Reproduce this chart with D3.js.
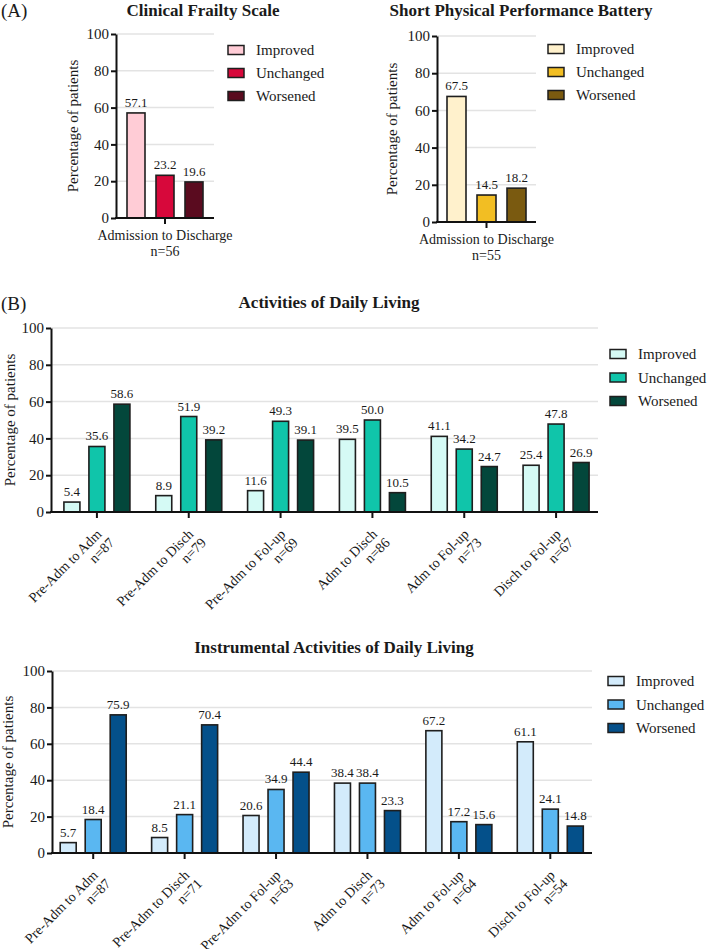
<!DOCTYPE html>
<html>
<head>
<meta charset="utf-8">
<script src="https://cdn.jsdelivr.net/npm/d3@7"></script>
<style>
  svg text { font-family: Liberation Serif; }
</style>
</head>
<body style="margin:0">
<script>
var outcomes = ["Improved", "Unchanged", "Worsened"];
var yTicks = [0, 20, 40, 60, 80, 100];

// (A) single period
var cfsPeriod = ["Admission to Discharge"], cfsN = [56];
var cfsValues = [57.1, 23.2, 19.6];
var sppbPeriod = ["Admission to Discharge"], sppbN = [55];
var sppbValues = [67.5, 14.5, 18.2];

// (B) six periods
var periods = ["Pre-Adm to Adm", "Pre-Adm to Disch", "Pre-Adm to Fol-up",
               "Adm to Disch", "Adm to Fol-up", "Disch to Fol-up"];
var adlN = [87, 79, 69, 86, 73, 67];
var adlImproved  = [5.4, 8.9, 11.6, 39.5, 41.1, 25.4];
var adlUnchanged = [35.6, 51.9, 49.3, 50.0, 34.2, 47.8];
var adlWorsened  = [58.6, 39.2, 39.1, 10.5, 24.7, 26.9];
var iadlN = [87, 71, 63, 73, 64, 54];
var iadlImproved  = [5.7, 8.5, 20.6, 38.4, 67.2, 61.1];
var iadlUnchanged = [18.4, 21.1, 34.9, 38.4, 17.2, 24.1];
var iadlWorsened  = [75.9, 70.4, 44.4, 23.3, 15.6, 14.8];

var width = 709, height = 949;

var svg = d3.select("body").append("svg")
    .attr("width", width)
    .attr("height", height);

// serif text with given size
function addText(parent, size, txt) {
  return parent.append("text")
    .attr("font-size", size)
    .style("font-family", "Liberation Serif")
    .attr("fill", "#1a1a1a")
    .text(txt);
}

function drawPanel(p) {
  var g = svg.append("g");
  var y = d3.scaleLinear().domain([0, 100]).range([p.bottom, p.top]);
  var x = d3.scaleBand().domain(p.cats).range([p.bandLeft, p.bandRight]);
  var inner = d3.scalePoint().domain(outcomes).range([-p.step, p.step]);

  // gridlines
  g.selectAll(".grid").data(yTicks.filter(function(t){ return t > 0; }))
    .join("line")
      .attr("x1", p.left).attr("x2", p.right)
      .attr("y1", y).attr("y2", y)
      .attr("stroke", "#e3e3e3").attr("stroke-width", 1.5);

  // bars + values
  outcomes.forEach(function(o, k) {
    var cx = function(d, i) { return x(p.cats[i]) + x.bandwidth() / 2 + inner(o); };
    g.selectAll(null).data(p.series[k]).join("rect")
      .attr("x", function(d, i){ return cx(d, i) - p.barW / 2; })
      .attr("y", y)
      .attr("width", p.barW)
      .attr("height", function(d){ return y(0) - y(d); })
      .attr("fill", p.colors[k])
      .attr("stroke", "#1e1e1e").attr("stroke-width", 1.6);
    p.series[k].forEach(function(d, i) {
      addText(g, 13, d.toFixed(1))
        .attr("x", cx(d, i)).attr("y", y(d) - 6)
        .attr("text-anchor", "middle");
    });
  });

  // y axis: ticks from d3, labels as serif text
  var ya = g.append("g")
      .attr("transform", "translate(" + p.left + ",0)")
      .call(d3.axisLeft(y).tickValues(yTicks).tickSize(5).tickSizeOuter(0).tickFormat(""));
  ya.select(".domain").attr("stroke", "#111").attr("stroke-width", 2);
  ya.selectAll(".tick line").attr("stroke", "#111").attr("stroke-width", 2);
  yTicks.forEach(function(t) {
    addText(g, 15, t).attr("x", p.left - 7).attr("y", y(t)).attr("dy", "0.34em")
      .attr("text-anchor", "end");
  });

  // x axis
  var xa = g.append("g")
      .attr("transform", "translate(0," + p.bottom + ")")
      .call(d3.axisBottom(x).tickSize(6).tickFormat(""));
  xa.select(".domain").remove();
  xa.selectAll(".tick line").attr("stroke", "#111").attr("stroke-width", 2);
  g.append("line")
    .attr("x1", p.left - 1).attr("x2", p.right)
    .attr("y1", p.bottom).attr("y2", p.bottom)
    .attr("stroke", "#111").attr("stroke-width", 2);

  // category labels
  p.cats.forEach(function(c, i) {
    var cx = x(c) + x.bandwidth() / 2;
    if (p.rotate) {
      var t = addText(g, 14, null)
        .attr("transform", "translate(" + (cx + 5.5) + "," + (p.bottom + 23) + ") rotate(-45)")
        .attr("text-anchor", "end");
      t.append("tspan").attr("x", 0).attr("y", 0).text(c);
      t.append("tspan").attr("x", 3).attr("y", 15).text("n=" + p.n[i]);
    } else {
      addText(g, 14, c).attr("x", cx).attr("y", p.bottom + 22).attr("text-anchor", "middle");
      addText(g, 14, "n=" + p.n[i]).attr("x", cx).attr("y", p.bottom + 38).attr("text-anchor", "middle");
    }
  });

  // y label
  addText(g, 15, "Percentage of patients")
    .attr("transform", "translate(" + p.ylabelX + "," + ((p.top + p.bottom) / 2) + ") rotate(-90)")
    .attr("text-anchor", "middle");

  // title
  addText(g, 17, p.title)
    .attr("x", p.titleX).attr("y", p.titleY)
    .attr("text-anchor", "middle")
    .attr("font-weight", "bold");

  // legend
  outcomes.forEach(function(o, i) {
    var ly = p.legendY + i * p.legendStep;
    g.append("rect")
      .attr("x", p.legendX).attr("y", ly - 4.5).attr("width", 16).attr("height", 9)
      .attr("fill", p.colors[i])
      .attr("stroke", "#1e1e1e").attr("stroke-width", 1.5);
    addText(g, 15, o).attr("x", p.legendX + 28).attr("y", ly).attr("dy", "0.35em");
  });
}

// (A) Clinical Frailty Scale
drawPanel({
  cats: cfsPeriod, n: cfsN,
  series: cfsValues.map(function(v){ return [v]; }),
  colors: ["#ffccd6", "#d7083b", "#5a0b1f"],
  left: 116, right: 214, top: 34, bottom: 218,
  bandLeft: 116, bandRight: 214, step: 29, barW: 18,
  rotate: false, ylabelX: 78,
  title: "Clinical Frailty Scale", titleX: 203, titleY: 16,
  legendX: 228, legendY: 50, legendStep: 23
});

// (A) Short Physical Performance Battery
drawPanel({
  cats: sppbPeriod, n: sppbN,
  series: sppbValues.map(function(v){ return [v]; }),
  colors: ["#fff1cc", "#f2be23", "#7a5a10"],
  left: 437, right: 536, top: 36, bottom: 222,
  bandLeft: 437, bandRight: 536, step: 30, barW: 19,
  rotate: false, ylabelX: 397,
  title: "Short Physical Performance Battery", titleX: 521, titleY: 16,
  legendX: 548, legendY: 49, legendStep: 23
});

// (B) Activities of Daily Living
drawPanel({
  cats: periods, n: adlN,
  series: [adlImproved, adlUnchanged, adlWorsened],
  colors: ["#d5faf5", "#10c5aa", "#03473b"],
  left: 51, right: 598, top: 328, bottom: 512,
  bandLeft: 51, bandRight: 602, step: 25, barW: 16,
  rotate: true, ylabelX: 15,
  title: "Activities of Daily Living", titleX: 329, titleY: 308,
  legendX: 610, legendY: 354, legendStep: 23.5
});

// (B) Instrumental Activities of Daily Living
drawPanel({
  cats: periods, n: iadlN,
  series: [iadlImproved, iadlUnchanged, iadlWorsened],
  colors: ["#d3ebfb", "#5ab7f1", "#04508a"],
  left: 52, right: 592, top: 671, bottom: 853,
  bandLeft: 47.5, bandRight: 596, step: 25, barW: 16,
  rotate: true, ylabelX: 13,
  title: "Instrumental Activities of Daily Living", titleX: 334, titleY: 653,
  legendX: 608, legendY: 681, legendStep: 23.5
});

// panel letters
addText(svg, 19, "(A)").attr("x", 1).attr("y", 17);
addText(svg, 19, "(B)").attr("x", 1).attr("y", 310);
</script>
</body>
</html>
